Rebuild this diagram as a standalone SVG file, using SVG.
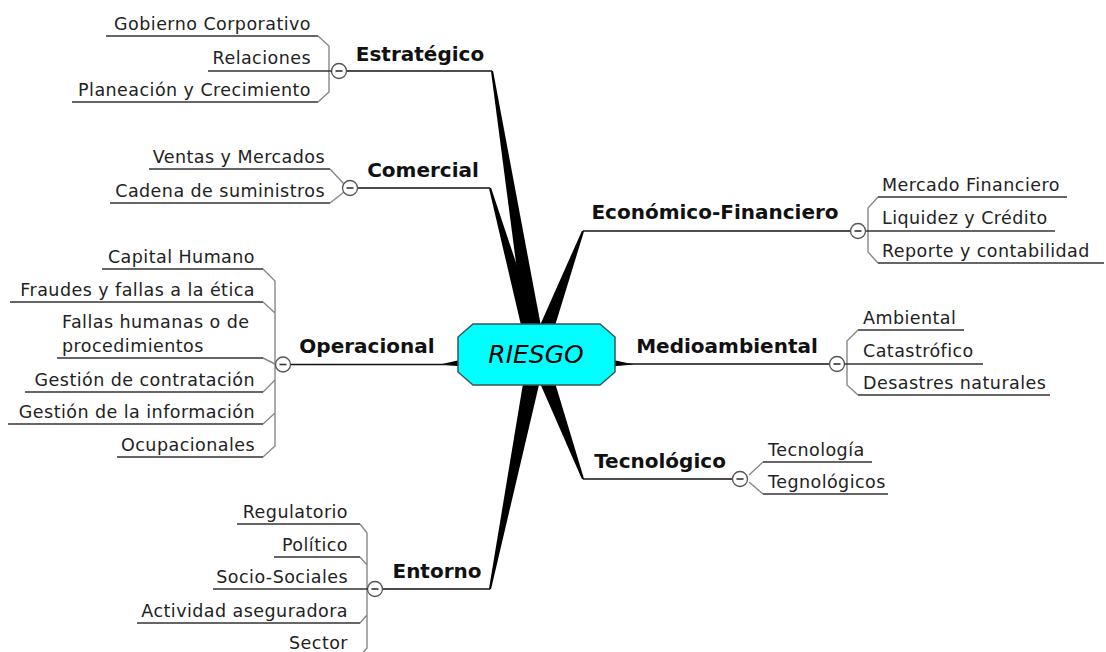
<svg xmlns="http://www.w3.org/2000/svg" width="1106" height="652" viewBox="0 0 1106 652">
  <style>
    .bg { fill: #ffffff; }
    .sub { font-family: "DejaVu Sans", Verdana, sans-serif; font-size: 17.5px; letter-spacing: 0.45px; fill: #222; }
    .main { font-family: "DejaVu Sans", Verdana, sans-serif; font-size: 20px; font-weight: bold; fill: #111; }
    .root { font-family: "DejaVu Sans", Verdana, sans-serif; font-size: 25px; font-style: italic; fill: #000; }
    .ul { stroke: #333; stroke-width: 1.6; fill: none; }
    .br { stroke: #888; stroke-width: 1.4; fill: none; }
    .ml { stroke: #111; stroke-width: 1.6; fill: none; }
    .spoke { fill: #000; }
    .tog circle { fill: #fff; stroke: #555; stroke-width: 1.3; }
    .tog line { stroke: #333; stroke-width: 1.6; }
  </style>
  <defs>
    <g id="toggle" class="tog">
      <circle cx="0" cy="0" r="7.5"/>
      <line x1="-3.5" y1="0" x2="3.5" y2="0"/>
    </g>
  </defs>
  <rect class="bg" x="0" y="0" width="1106" height="652"/>

  <!-- connectors: tapered spokes from the centre, main branch lines, sub-topic brackets -->
  <g id="connectors">
    <polygon class="spoke" points="493,70.8 545.9,352.6 528.1,355.4 491,71.2"/>
    <polygon class="spoke" points="491,187.7 545.7,351.6 528.3,356.4 489,188.3"/>
    <polygon class="spoke" points="584,231.3 545.4,357.1 528.6,350.9 582,230.7"/>
    <polygon class="spoke" points="584,478.7 545.4,350.9 528.6,357.1 582,479.3"/>
    <polygon class="spoke" points="491,589.2 545.8,355.8 528.2,352.2 489,588.8"/>
    <polygon class="spoke" points="440,364.6 462,359.5 462,366.5"/>
    <polygon class="spoke" points="611,359.5 634,364.6 611,366.5"/>

    <line class="ml" x1="346" y1="71" x2="492" y2="71"/>
    <line class="ml" x1="357" y1="188" x2="490" y2="188"/>
    <line class="ml" x1="290" y1="364.5" x2="452" y2="364.5"/>
    <line class="ml" x1="382" y1="589" x2="490" y2="589"/>
    <line class="ml" x1="583" y1="231" x2="851" y2="231"/>
    <line class="ml" x1="622" y1="364" x2="830" y2="364"/>
    <line class="ml" x1="583" y1="479" x2="733" y2="479"/>

    <path class="br" d="M318,36 L329,46 L329,92 L318,102"/>
    <path class="br" d="M330,169 L344,184 M330,203 L344,192"/>
    <path class="br" d="M263,269 L275,281 L275,446 L263,457 M263,302 L275,313 M263,392 L275,380 M263,424 L275,413 M263,358 L276,364.5"/>
    <path class="br" d="M360,524 L367,533 L367,648 L360,656 M360,557 L367,565 M360,623 L367,615"/>
    <path class="br" d="M878,197 L868,208 L868,252 L878,263"/>
    <path class="br" d="M858,330 L847,341 L847,385 L858,395"/>
    <path class="br" d="M763,462 L749,475 M763,494 L749,482"/>
  </g>

  <!-- central topic -->
  <g id="riesgo">
    <polygon points="473,324 600,324 615,337 615,372 600,385 473,385 458,372 458,337" fill="#00ffff" stroke="#3d5555" stroke-width="1.5"/>
    <text class="root" x="536" y="363" text-anchor="middle">RIESGO</text>
  </g>

  <!-- Estratégico -->
  <g id="estrategico">
    <text class="main" x="420" y="61" text-anchor="middle">Estratégico</text>
    <use href="#toggle" x="339" y="71"/>
  </g>
  <g id="gobierno-corporativo">
    <line class="ul" x1="106" y1="36" x2="318" y2="36"/>
    <text class="sub" x="311" y="30" text-anchor="end">Gobierno Corporativo</text>
  </g>
  <g id="relaciones">
    <line class="ul" x1="208" y1="71" x2="332" y2="71"/>
    <text class="sub" x="311" y="64" text-anchor="end">Relaciones</text>
  </g>
  <g id="planeacion">
    <line class="ul" x1="72" y1="102" x2="318" y2="102"/>
    <text class="sub" x="311" y="96" text-anchor="end">Planeación y Crecimiento</text>
  </g>

  <!-- Comercial -->
  <g id="comercial">
    <text class="main" x="423" y="177" text-anchor="middle">Comercial</text>
    <use href="#toggle" x="350" y="188"/>
  </g>
  <g id="ventas-mercados">
    <line class="ul" x1="149" y1="169" x2="330" y2="169"/>
    <text class="sub" x="325" y="163" text-anchor="end">Ventas y Mercados</text>
  </g>
  <g id="cadena-suministros">
    <line class="ul" x1="110" y1="203" x2="330" y2="203"/>
    <text class="sub" x="325" y="197" text-anchor="end">Cadena de suministros</text>
  </g>

  <!-- Operacional -->
  <g id="operacional">
    <text class="main" x="367" y="353" text-anchor="middle">Operacional</text>
    <use href="#toggle" x="283" y="364.5"/>
  </g>
  <g id="capital-humano">
    <line class="ul" x1="102" y1="269" x2="263" y2="269"/>
    <text class="sub" x="255" y="263" text-anchor="end">Capital Humano</text>
  </g>
  <g id="fraudes">
    <line class="ul" x1="10" y1="302" x2="263" y2="302"/>
    <text class="sub" x="255" y="296" text-anchor="end">Fraudes y fallas a la ética</text>
  </g>
  <g id="fallas-humanas">
    <line class="ul" x1="57" y1="358" x2="263" y2="358"/>
    <text class="sub" x="62" y="328">Fallas humanas o de</text>
    <text class="sub" x="62" y="352">procedimientos</text>
  </g>
  <g id="gestion-contratacion">
    <line class="ul" x1="25" y1="392" x2="263" y2="392"/>
    <text class="sub" x="255" y="386" text-anchor="end">Gestión de contratación</text>
  </g>
  <g id="gestion-informacion">
    <line class="ul" x1="8" y1="424" x2="263" y2="424"/>
    <text class="sub" x="255" y="418" text-anchor="end">Gestión de la información</text>
  </g>
  <g id="ocupacionales">
    <line class="ul" x1="117" y1="457" x2="263" y2="457"/>
    <text class="sub" x="255" y="451" text-anchor="end">Ocupacionales</text>
  </g>

  <!-- Entorno -->
  <g id="entorno">
    <text class="main" x="437" y="578" text-anchor="middle">Entorno</text>
    <use href="#toggle" x="375" y="589"/>
  </g>
  <g id="regulatorio">
    <line class="ul" x1="237" y1="524" x2="360" y2="524"/>
    <text class="sub" x="348" y="518" text-anchor="end">Regulatorio</text>
  </g>
  <g id="politico">
    <line class="ul" x1="274" y1="557" x2="360" y2="557"/>
    <text class="sub" x="348" y="551" text-anchor="end">Político</text>
  </g>
  <g id="socio-sociales">
    <line class="ul" x1="213" y1="589" x2="368" y2="589"/>
    <text class="sub" x="348" y="583" text-anchor="end">Socio-Sociales</text>
  </g>
  <g id="actividad-aseguradora">
    <line class="ul" x1="137" y1="623" x2="360" y2="623"/>
    <text class="sub" x="348" y="617" text-anchor="end">Actividad aseguradora</text>
  </g>
  <g id="sector">
    <line class="ul" x1="280" y1="656" x2="360" y2="656"/>
    <text class="sub" x="348" y="649" text-anchor="end">Sector</text>
  </g>

  <!-- Económico-Financiero -->
  <g id="economico-financiero">
    <text class="main" x="715" y="219" text-anchor="middle">Económico-Financiero</text>
    <use href="#toggle" x="858" y="231"/>
  </g>
  <g id="mercado-financiero">
    <line class="ul" x1="878" y1="197" x2="1067" y2="197"/>
    <text class="sub" x="882" y="191">Mercado Financiero</text>
  </g>
  <g id="liquidez-credito">
    <line class="ul" x1="866" y1="231" x2="1055" y2="231"/>
    <text class="sub" x="882" y="224">Liquidez y Crédito</text>
  </g>
  <g id="reporte-contabilidad">
    <line class="ul" x1="878" y1="263" x2="1104" y2="263"/>
    <text class="sub" x="882" y="257">Reporte y contabilidad</text>
  </g>

  <!-- Medioambiental -->
  <g id="medioambiental">
    <text class="main" x="727" y="353" text-anchor="middle">Medioambiental</text>
    <use href="#toggle" x="837" y="364"/>
  </g>
  <g id="ambiental">
    <line class="ul" x1="858" y1="330" x2="964" y2="330"/>
    <text class="sub" x="863" y="324">Ambiental</text>
  </g>
  <g id="catastrofico">
    <line class="ul" x1="844" y1="364" x2="983" y2="364"/>
    <text class="sub" x="863" y="357">Catastrófico</text>
  </g>
  <g id="desastres-naturales">
    <line class="ul" x1="858" y1="395" x2="1050" y2="395"/>
    <text class="sub" x="863" y="389">Desastres naturales</text>
  </g>

  <!-- Tecnológico -->
  <g id="tecnologico">
    <text class="main" x="660" y="468" text-anchor="middle">Tecnológico</text>
    <use href="#toggle" x="740" y="479"/>
  </g>
  <g id="tecnologia">
    <line class="ul" x1="763" y1="462" x2="872" y2="462"/>
    <text class="sub" x="768" y="456">Tecnología</text>
  </g>
  <g id="tegnologicos">
    <line class="ul" x1="763" y1="494" x2="888" y2="494"/>
    <text class="sub" x="768" y="488">Tegnológicos</text>
  </g>
</svg>
